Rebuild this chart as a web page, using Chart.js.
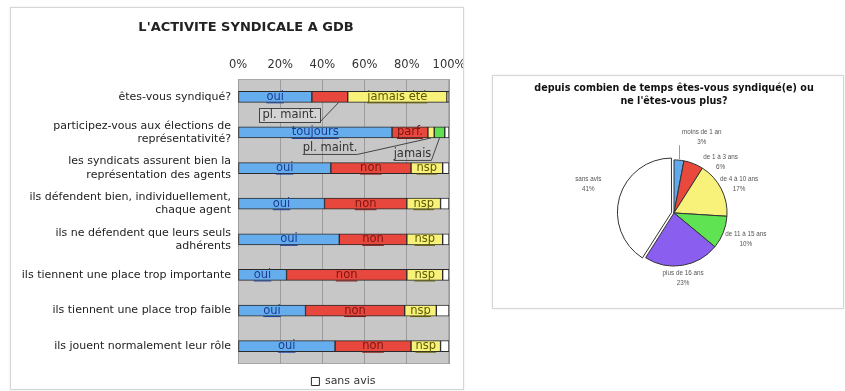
<!DOCTYPE html>
<html>
<head>
<meta charset="utf-8">
<script src="https://cdn.jsdelivr.net/npm/chart.js@4"></script>
<style>
  body { margin: 0; background: #fff; }
  .panneau { position: absolute; background: #fff; border: 1px solid #d6d6d6; box-shadow: 0 0 2px #e6e6e6; }
  #p1 { left: 10px; top: 7px; width: 452px; height: 381px; }
  #p2 { left: 492px; top: 75px; width: 350px; height: 232px; }
</style>
</head>
<body>
<div class="panneau" id="p1"><canvas id="barres" width="452" height="381"></canvas></div>
<div class="panneau" id="p2"><canvas id="camembert" width="350" height="232"></canvas></div>
<script>
// * barres empilées
const questions = [
  "êtes-vous syndiqué?",
  ["participez-vous aux élections de", "représentativité?"],
  ["les syndicats assurent bien la", "représentation des agents"],
  ["ils défendent bien, individuellement,", "chaque agent"],
  ["ils ne défendent que leurs seuls", "adhérents"],
  "ils tiennent une place trop importante",
  "ils tiennent une place trop faible",
  "ils jouent normalement leur rôle",
];
const bleu = [35, 73, 44, 41, 48, 23, 32, 46];
const rouge = [17, 17, 38, 39, 32, 57, 47, 36];
const jaune = [47, 3, 15, 16, 17, 17, 15, 14];
const vert = [0, 5, 0, 0, 0, 0, 0, 0];
const sansAvis = [1, 2, 3, 4, 3, 3, 6, 4];
const texteBleu = ["oui", "toujours", "oui", "oui", "oui", "oui", "oui", "oui"];
const texteRouge = ["", "parf.", "non", "non", "non", "non", "non", "non"];
const texteJaune = ["jamais été", "", "nsp", "nsp", "nsp", "nsp", "nsp", "nsp"];
const pourcents = ["0%", "20%", "40%", "60%", "80%", "100%"];

// * camembert
const tranches = ["moins de 1 an", "de 1 à 3 ans", "de 4 à 10 ans", "de 11 à 15 ans", "plus de 16 ans", "sans avis"];
const parts = [3, 6, 17, 10, 23, 41];
const couleursParts = ["#5fa9ee", "#e9483d", "#f8f27b", "#5fe352", "#8a5ff0", "#ffffff"];

const police = "'DejaVu Sans', Verdana, sans-serif";

const fondGris = {
  id: "fondGris",
  beforeDraw(chart) {
    const a = chart.chartArea;
    const ctx = chart.ctx;
    ctx.save();
    ctx.fillStyle = "#c7c7c7";
    ctx.fillRect(a.left, a.top, a.right - a.left, a.bottom - a.top);
    ctx.strokeStyle = "#a8a8a8";
    ctx.lineWidth = 1;
    ctx.strokeRect(a.left + 0.5, a.top + 0.5, a.right - a.left - 1, a.bottom - a.top - 1);
    ctx.restore();
  },
};

// titre décalé vers la droite (le titre de Chart.js reste centré sur le canvas)
const titre = {
  id: "titre",
  afterDraw(chart, args, opts) {
    const ctx = chart.ctx;
    ctx.save();
    ctx.font = "bold 13px " + police;
    ctx.fillStyle = "#222";
    ctx.textAlign = "center";
    ctx.textBaseline = "middle";
    ctx.fillText(opts.texte, chart.width / 2 + opts.decalage, opts.y);
    ctx.restore();
  },
};

function souligne(ctx, txt, x, y) {
  const w = ctx.measureText(txt).width;
  ctx.fillText(txt, x, y);
  ctx.beginPath();
  ctx.moveTo(x - w / 2, y + 6);
  ctx.lineTo(x + w / 2, y + 6);
  ctx.stroke();
  return w;
}

// ? texte dans les segments + rappels
const etiquettes = {
  id: "etiquettes",
  afterDatasetsDraw(chart, args, opts) {
    const ctx = chart.ctx;
    ctx.save();
    ctx.font = "11.5px " + police;
    ctx.textAlign = "center";
    ctx.textBaseline = "middle";
    ctx.lineWidth = 1;
    opts.segments.forEach((s) => {
      const meta = chart.getDatasetMeta(s.ds);
      s.textes.forEach((t, i) => {
        if (!t) return;
        const b = meta.data[i];
        ctx.fillStyle = s.couleur;
        ctx.strokeStyle = s.couleur;
        souligne(ctx, t, (b.x + b.base) / 2, b.y);
      });
    });
    opts.rappels.forEach((r) => {
      const b = chart.getDatasetMeta(r.ds).data[r.ligne];
      const cx = (b.x + b.base) / 2;
      const bas = b.y + b.height / 2;
      const tx = cx + r.dx;
      const ty = b.y + r.dy;
      ctx.fillStyle = "#333";
      ctx.strokeStyle = "#444";
      const w = ctx.measureText(r.texte).width;
      let x0, y0;
      if (r.cadre) {
        ctx.fillStyle = "#d4d4d4";
        ctx.fillRect(tx - w / 2 - 3, ty - 7, w + 6, 14);
        ctx.strokeRect(Math.round(tx - w / 2 - 3) + 0.5, Math.round(ty - 7) + 0.5, Math.round(w + 6), 14);
        ctx.fillStyle = "#333";
        ctx.fillText(r.texte, tx, ty);
        x0 = tx + w / 2 + 3;
        y0 = ty + 7;
      } else {
        souligne(ctx, r.texte, tx, ty);
        x0 = tx + w / 2;
        y0 = ty + 6;
      }
      ctx.beginPath();
      ctx.moveTo(x0, y0);
      ctx.lineTo(cx + r.lx, bas);
      ctx.stroke();
    });
    ctx.restore();
  },
};

const barData = {
  labels: questions,
  datasets: [
    { label: "oui", data: bleu, backgroundColor: "#66adee" },
    { label: "non", data: rouge, backgroundColor: "#e7473c" },
    { label: "nsp", data: jaune, backgroundColor: "#f8f27b" },
    { label: "jamais", data: vert, backgroundColor: "#5fe04f" },
    { label: "sans avis", data: sansAvis, backgroundColor: "#ffffff" },
  ],
};
barData.datasets.forEach((d) => {
  d.borderColor = "#2a2a2a";
  d.borderWidth = 1;
  d.borderSkipped = false;
  d.barThickness = 11;
});

new Chart(document.getElementById("barres").getContext("2d"), {
  type: "bar",
  data: barData,
  plugins: [fondGris, etiquettes, titre],
  options: {
    responsive: false,
    animation: false,
    indexAxis: "y",
    layout: { padding: { left: 0, right: 14, top: 49, bottom: -8 } },
    scales: {
      x: {
        stacked: true,
        position: "top",
        min: 0,
        max: 100,
        afterBuildTicks: (scale) => {
          scale.ticks = pourcents.map((p, i) => ({ value: i * 20 }));
        },
        afterFit: (scale) => {
          scale.height = 22;
          scale.paddingLeft = 0;
          scale.paddingRight = 0;
        },
        grid: { color: "#9c9c9c", drawTicks: false },
        border: { display: false },
        ticks: {
          padding: 7,
          color: "#333",
          font: { family: police, size: 11.5 },
          callback: (v, i) => pourcents[i],
        },
      },
      y: {
        stacked: true,
        afterFit: (scale) => {
          scale.width = 227;
          scale.paddingTop = 0;
          scale.paddingBottom = 0;
        },
        grid: { display: false, drawTicks: false },
        border: { display: false },
        ticks: { padding: 7, color: "#222", font: { family: police, size: 11 } },
      },
    },
    plugins: {
      title: { display: false },
      titre: { texte: "L'ACTIVITE SYNDICALE A GDB", decalage: 9, y: 20 },
      legend: {
        position: "bottom",
        fullSize: false,
        labels: {
          filter: (item) => item.text === "sans avis",
          boxWidth: 8,
          boxHeight: 8,
          padding: 12,
          color: "#333",
          font: { family: police, size: 11 },
        },
      },
      tooltip: { enabled: false },
      etiquettes: {
        segments: [
          { ds: 0, textes: texteBleu, couleur: "#1a3c92" },
          { ds: 1, textes: texteRouge, couleur: "#7d1512" },
          { ds: 2, textes: texteJaune, couleur: "#5d5a00" },
        ],
        rappels: [
          { ds: 1, ligne: 0, texte: "pl. maint.", dx: -40, dy: 18, lx: 9, cadre: true },
          { ds: 2, ligne: 1, texte: "pl. maint.", dx: -101, dy: 16, lx: 0, cadre: false },
          { ds: 3, ligne: 1, texte: "jamais", dx: -27, dy: 22, lx: 0, cadre: false },
        ],
      },
    },
  },
});

// ? étiquettes extérieures du camembert
const etiquettesParts = {
  id: "etiquettesParts",
  afterDatasetsDraw(chart, args, opts) {
    const ctx = chart.ctx;
    const ds = chart.data.datasets[0];
    ctx.save();
    ctx.font = "6.3px 'Liberation Sans', Arial, sans-serif";
    ctx.fillStyle = "#555";
    ctx.strokeStyle = "#999";
    ctx.lineWidth = 1;
    ctx.textAlign = "center";
    ctx.textBaseline = "middle";
    chart.getDatasetMeta(0).data.forEach((arc, i) => {
      const mid = (arc.startAngle + arc.endAngle) / 2;
      const dec = ds.offset[i] || 0;
      const cx = arc.x + Math.cos(mid) * dec;
      const cy = arc.y + Math.sin(mid) * dec;
      const r = arc.outerRadius + opts.distance;
      const l1 = chart.data.labels[i];
      const l2 = ds.data[i] + "%";
      const w = Math.max(ctx.measureText(l1).width, ctx.measureText(l2).width);
      const n = opts.decalages[i];
      const x = cx + Math.cos(mid) * r + Math.cos(mid) * w / 2 + n[0];
      const y = cy + Math.sin(mid) * r + Math.sin(mid) * 9 + n[1];
      ctx.fillText(l1, x, y - 5);
      ctx.fillText(l2, x, y + 5);
      if (opts.traits[i]) {
        const ex = cx + Math.cos(mid) * (arc.outerRadius + 1);
        const ey = cy + Math.sin(mid) * (arc.outerRadius + 1);
        ctx.beginPath();
        ctx.moveTo(Math.round(ex) + 0.5, ey);
        ctx.lineTo(Math.round(ex) + 0.5, y + 8);
        ctx.stroke();
      }
    });
    ctx.restore();
  },
};

new Chart(document.getElementById("camembert").getContext("2d"), {
  type: "pie",
  data: {
    labels: tranches,
    datasets: [
      {
        data: parts,
        backgroundColor: couleursParts,
        borderColor: "#333",
        borderWidth: 1,
        offset: [0, 0, 0, 0, 0, 10],
      },
    ],
  },
  plugins: [etiquettesParts],
  options: {
    responsive: false,
    animation: false,
    layout: { padding: { left: 12, right: 0, top: 0, bottom: 36.5 } },
    plugins: {
      legend: { display: false },
      tooltip: { enabled: false },
      title: {
        display: true,
        text: ["depuis combien de temps êtes-vous syndiqué(e) ou", "ne l'êtes-vous plus?"],
        color: "#111",
        font: { family: police, size: 9.6, weight: "bold", lineHeight: 1.35 },
        padding: { top: 6.5, bottom: 46 },
      },
      etiquettesParts: {
        distance: 10,
        decalages: [[20, -4], [17, 16], [-8, 4], [-6, 0], [-4, -6], [-3, -6]],
        traits: [true, false, false, false, false, false],
      },
    },
  },
});
</script>
</body>
</html>
